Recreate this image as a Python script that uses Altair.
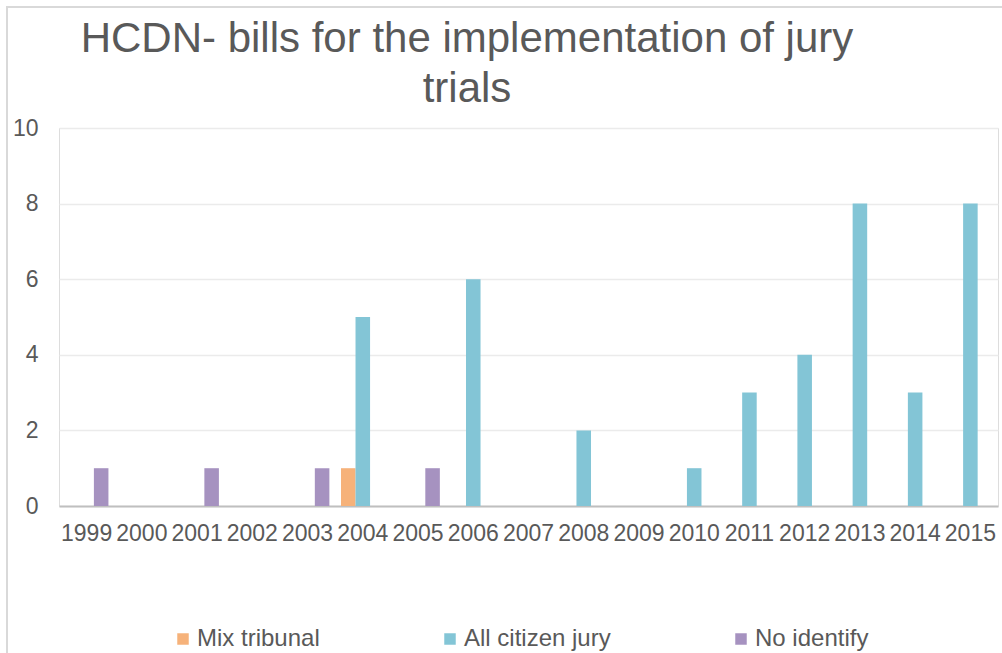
import altair as alt
import pandas as pd

years = ["1999", "2000", "2001", "2002", "2003", "2004", "2005", "2006", "2007",
         "2008", "2009", "2010", "2011", "2012", "2013", "2014", "2015"]
series_names = ["Mix tribunal", "All citizen jury", "No identify"]
mix_tribunal = [0, 0, 0, 0, 0, 1, 0, 0, 0, 0, 0, 0, 0, 0, 0, 0, 0]
all_citizen_jury = [0, 0, 0, 0, 0, 5, 0, 6, 0, 2, 0, 1, 3, 4, 8, 3, 8]
no_identify = [1, 0, 1, 0, 1, 0, 1, 0, 0, 0, 0, 0, 0, 0, 0, 0, 0]
colors = ["#F6B27A", "#83C5D6", "#A692C0"]
y_ticks = [0, 2, 4, 6, 8, 10]
title_lines = ["HCDN- bills for the implementation of jury", "trials"]

rows = []
for name, vals in zip(series_names, [mix_tribunal, all_citizen_jury, no_identify]):
    for yr, v in zip(years, vals):
        rows.append({"year": yr, "series": name, "value": v})
df = pd.DataFrame(rows)

TXT = "#595959"
FONT = "Liberation Sans"

bars = alt.Chart(df).mark_bar().encode(
    x=alt.X("year:N",
            scale=alt.Scale(domain=years, paddingInner=0.21, paddingOuter=0.105),
            axis=alt.Axis(title=None, labelAngle=0, labelFontSize=23, labelColor=TXT,
                          labelPadding=16, ticks=False, domainColor="#BFBFBF",
                          domainWidth=2, labelOverlap=False, grid=False, labelFont=FONT)),
    xOffset=alt.XOffset("series:N", scale=alt.Scale(domain=series_names, paddingInner=0, paddingOuter=0)),
    y=alt.Y("value:Q",
            scale=alt.Scale(domain=[0, 10], nice=False),
            axis=alt.Axis(title=None, values=y_ticks, labelFontSize=23, labelColor=TXT,
                          domain=False, ticks=False, gridColor="#EBEBEB", gridWidth=1.5,
                          labelPadding=21, labelFont=FONT)),
    color=alt.Color("series:N",
                    scale=alt.Scale(domain=series_names, range=colors),
                    legend=alt.Legend(title=None, orient="none", direction="horizontal",
                                      legendX=112, legendY=499, symbolType="square",
                                      symbolSize=132, symbolStrokeWidth=0, labelFontSize=24,
                                      labelColor=TXT, labelFont=FONT, labelOffset=2,
                                      columnPadding=118)),
)

title = alt.Chart(alt.Data(values=[{"t": title_lines}])).mark_text(
    font=FONT, fontSize=42, color=TXT, align="center", baseline="top", lineHeight=50
).encode(text="t:N", x=alt.value(408), y=alt.value(-109))

border_v = alt.Chart(alt.Data(values=[{}])).mark_rule(color="#D9D9D9", strokeWidth=2).encode(
    x=alt.value(-52), y=alt.value(-121), y2=alt.value(530))
border_h = alt.Chart(alt.Data(values=[{}])).mark_rule(color="#D9D9D9", strokeWidth=2).encode(
    x=alt.value(-53), x2=alt.value(950), y=alt.value(-121))

chart = alt.layer(border_v, border_h, bars, title).properties(
    width=939, height=378,
    autosize=alt.AutoSizeParams(type="none"),
    padding={"left": 59, "top": 128, "right": 4, "bottom": 147},
).configure_view(stroke=None).configure(background="white", font=FONT)

chart.save("out.html", embed_options={"renderer": "svg", "actions": False})
